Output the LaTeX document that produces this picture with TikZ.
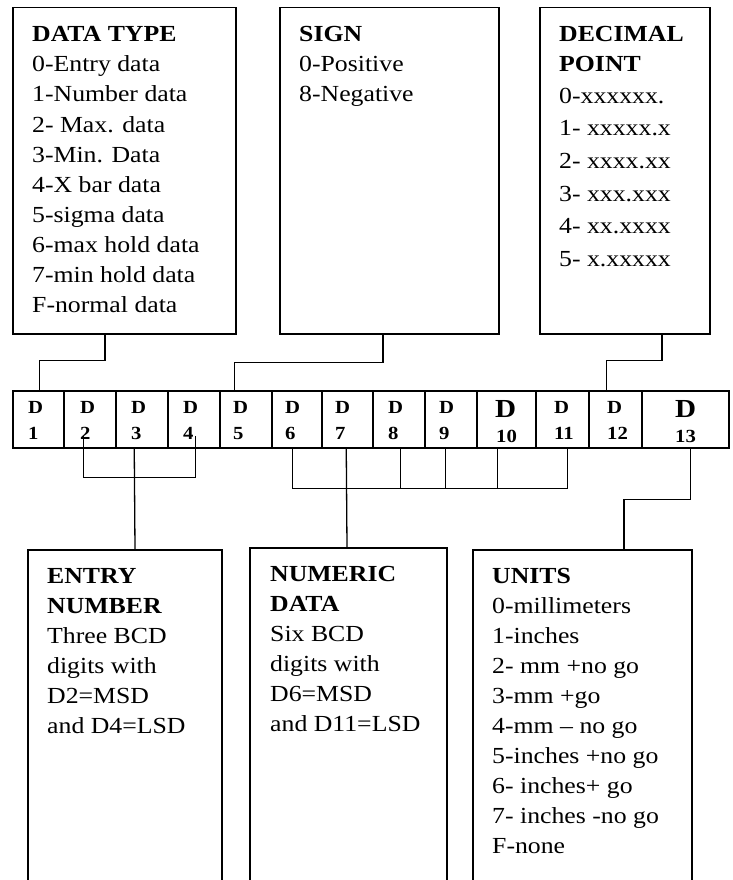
\documentclass[tikz,border=0pt]{standalone}
\usepackage{fontspec}
\setmainfont{Liberation Serif}[FakeStretch=1.12]
\begin{document}
\begin{tikzpicture}[x=1pt,y=-1pt,
  box/.style={draw,line width=1.5pt,rectangle,inner sep=0pt,anchor=north west},
  cell/.style={draw,line width=1.5pt,rectangle,inner sep=0pt,minimum height=57pt},
  conn/.style={line width=1.3pt},
  txt/.style={anchor=base west,inner sep=0pt,font=\fontsize{23}{30}\selectfont},
  ttl/.style={txt,font=\fontsize{23}{30}\selectfont\bfseries},
  dtxt/.style={anchor=base west,inner sep=0pt,font=\fontsize{18.5}{20}\selectfont\bfseries},
  bigd/.style={anchor=base west,inner sep=0pt,font=\fontsize{26}{28}\selectfont\bfseries}]
\useasboundingbox (0,0) rectangle (732,880);
\clip (0,0) rectangle (732,880);
% top boxes
\node[box,minimum width=223pt,minimum height=326pt] (dtype) at (12,7) {};
\node[box,minimum width=219pt,minimum height=326pt] (sign) at (279,7) {};
\node[box,minimum width=170pt,minimum height=326pt] (dec) at (539,7) {};
% bottom boxes (open at the bottom)
\node[box,minimum width=194pt,minimum height=360pt] (entry) at (27,549) {};
\node[box,minimum width=197pt,minimum height=360pt] (num) at (249,547) {};
\node[box,minimum width=219pt,minimum height=360pt] (units) at (472,549) {};
% texts of top boxes
\node[ttl] (dtt) at (32,42) {DATA TYPE};
\foreach \t [count=\i] in {0-Entry data,1-Number data,2- Max. data,3-Min. Data,4-X bar data,5-sigma data,6-max hold data,7-min hold data,F-normal data}
  \node[txt] (dt\i) at (32,{42+30*\i}) {\t};
\node[ttl] (sgt) at (299,42) {SIGN};
\node[txt] (sg1) at (299,72) {0-Positive};
\node[txt] (sg2) at (299,102) {8-Negative};
\node[ttl] (dpt1) at (559,42) {DECIMAL};
\node[ttl] (dpt2) at (559,72) {POINT};
\foreach \t [count=\i] in {0-xxxxxx.,1- xxxxx.x,2- xxxx.xx,3- xxx.xxx,4- xx.xxxx,5- x.xxxxx}
  \node[txt] (dp\i) at (559,{103+32.7*(\i-1)}) {\t};
% texts of bottom boxes
\node[ttl] (ent1) at (47,583) {ENTRY};
\node[ttl] (ent2) at (47,613) {NUMBER};
\foreach \t [count=\i] in {Three BCD,digits with,D2=MSD,and D4=LSD}
  \node[txt] (en\i) at (47,{613+30*\i}) {\t};
\node[ttl] (nut1) at (270,581) {NUMERIC};
\node[ttl] (nut2) at (270,611) {DATA};
\foreach \t [count=\i] in {Six BCD,digits with,D6=MSD,and D11=LSD}
  \node[txt] (nu\i) at (270,{611+30*\i}) {\t};
\node[ttl] (unt) at (492,583) {UNITS};
\foreach \t [count=\i] in {0-millimeters,1-inches,2- mm +no go,3-mm +go,4-mm – no go,5-inches +no go,6- inches+ go,7- inches -no go,F-none}
  \node[txt] (un\i) at (492,{583+30*\i}) {\t};
% digit cells
\foreach \n/\l/\r in {1/13/64,2/64/116,3/116/168,4/168/220,5/220/272,6/272/322,7/322/373,8/373/425,9/425/477,10/477/536,11/536/589,12/589/642,13/642/729}{
  \pgfmathsetmacro\w{\r-\l}
  \pgfmathsetmacro\c{(\l+\r)/2}
  \node[cell,minimum width=\w pt] (d\n) at (\c,419.5) {};
}
\foreach \n/\xd in {1/28,2/80,3/131,4/183,5/233,6/285,7/335,8/388,9/439,11/554,12/607}{
  \node[dtxt] (dl\n) at (\xd,413) {D};
  \node[dtxt] (nl\n) at (\xd,439) {\n};
}
\node[bigd] (dl10) at (495,417) {D};
\node[dtxt] (nl10) at (496,442) {10};
\node[bigd] (dl13) at (675,417) {D};
\node[dtxt] (nl13) at (675,442) {13};
% connectors from top boxes
\draw[conn] ([xshift=93pt]dtype.south west) -- ++(0,26) -| ([xshift=27pt]d1.north west);
\draw[conn] ([xshift=104pt]sign.south west) -- ++(0,28) -| ([xshift=15pt]d5.north west);
\draw[conn] ([xshift=123pt]dec.south west) -- ++(0,26) -| ([xshift=18pt]d12.north west);
% entry number bracket
\draw[conn] ([xshift=20pt,yshift=13pt]d2.south west) -- ++(0,42) -| ([xshift=28pt,yshift=13pt]d4.south west);
\draw[conn] ([xshift=19pt]d3.south west) -- ([xshift=108pt]entry.north west);
% numeric data bracket
\draw[conn] ([xshift=21pt]d6.south west) -- ++(0,40) -| ([xshift=32pt]d11.south west);
\draw[conn] ([xshift=28pt]d8.south west) -- ++(0,40);
\draw[conn] ([xshift=21pt]d9.south west) -- ++(0,40);
\draw[conn] ([xshift=21pt]d10.south west) -- ++(0,40);
\draw[conn] ([xshift=25pt]d7.south west) -- ([xshift=98pt]num.north west);
% units
\draw[conn] ([xshift=49pt]d13.south west) -- ++(0,51) -| ([xshift=152pt]units.north west);
\end{tikzpicture}
\end{document}
